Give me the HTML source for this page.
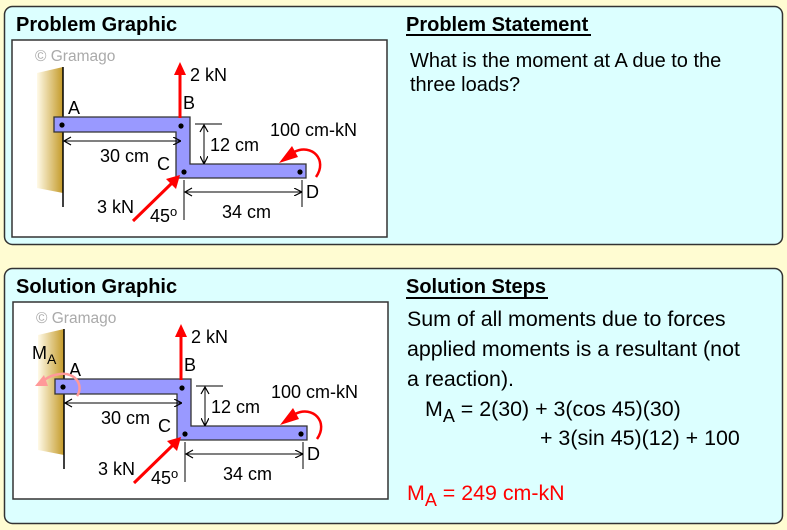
<!DOCTYPE html>
<html><head><meta charset="utf-8"><style>
html,body{margin:0;padding:0;background:#fffcd2;}
svg{display:block;font-family:"Liberation Sans",Arial,sans-serif;}
</style></head><body>
<svg width="787" height="530" viewBox="0 0 787 530" xmlns="http://www.w3.org/2000/svg">
<defs>
<linearGradient id="wall" x1="0" x2="1" y1="0" y2="0">
<stop offset="0" stop-color="#fffae8"/><stop offset="1" stop-color="#c49a28"/>
</linearGradient>
<marker id="ah" markerWidth="8" markerHeight="8" refX="7" refY="4" orient="auto" markerUnits="userSpaceOnUse">
<path d="M0,0 L8,4 L0,8" fill="none" stroke="#000" stroke-width="1.2"/>
</marker>
<g id="diag">
<rect x="12" y="40" width="375" height="197" fill="#fff" stroke="#333" stroke-width="1.5"/>
<text x="35" y="61" font-size="15.5" fill="#aaa">© Gramago</text>
<polygon points="37,73 63,67 63,193 37,188" fill="url(#wall)"/>
<line x1="63" y1="67" x2="63" y2="207" stroke="#000" stroke-width="1.5"/>
<path d="M54,117 H190 V164 H306 V178 H176 V132 H54 Z" fill="#9999ff" stroke="#333" stroke-width="1.3"/>
<circle cx="62" cy="125" r="2.6"/><circle cx="181" cy="126" r="2.6"/>
<circle cx="184" cy="172" r="2.6"/><circle cx="300" cy="172" r="2.6"/>
<line x1="180" y1="118" x2="180" y2="74" stroke="#f00" stroke-width="3"/>
<polygon points="174,75 186,75 180,62" fill="#f00"/>
<text x="190" y="81" font-size="18">2 kN</text>
<text x="68" y="114" font-size="18">A</text>
<text x="183" y="109" font-size="18">B</text>
<text x="157" y="170" font-size="18">C</text>
<text x="306" y="198" font-size="18">D</text>
<line x1="64" y1="141" x2="180" y2="141" stroke="#000" marker-end="url(#ah)"/>
<path d="M71,137 L64,141 L71,145" fill="none" stroke="#000" stroke-width="1.2"/>
<text x="100" y="162" font-size="18">30 cm</text>
<line x1="195" y1="124" x2="222" y2="124" stroke="#000"/>
<line x1="204" y1="125" x2="204" y2="163" stroke="#000" marker-end="url(#ah)"/>
<path d="M200,132 L204,125 L208,132" fill="none" stroke="#000" stroke-width="1.2"/>
<text x="210" y="151" font-size="18">12 cm</text>
<text x="270" y="136" font-size="18">100 cm-kN</text>
<path d="M316,177 C328,160 312,143 294,152" fill="none" stroke="#f00" stroke-width="2.5"/>
<polygon points="279,163 292,146 298,157" fill="#f00"/>
<line x1="184" y1="180" x2="184" y2="220" stroke="#000"/>
<line x1="302" y1="180" x2="302" y2="207" stroke="#000"/>
<line x1="185" y1="192" x2="301" y2="192" stroke="#000" marker-end="url(#ah)"/>
<path d="M192,188 L185,192 L192,196" fill="none" stroke="#000" stroke-width="1.2"/>
<text x="222" y="218" font-size="18">34 cm</text>
<line x1="133" y1="221" x2="172" y2="183" stroke="#f00" stroke-width="3"/>
<polygon points="180,175 176,189 166,179" fill="#f00"/>
<text x="97" y="213" font-size="18">3 kN</text>
<text x="150" y="222" font-size="18">45<tspan font-size="13" dy="-6">o</tspan></text>
</g>
</defs>

<rect x="4.5" y="6.5" width="778" height="238" rx="8" fill="#dcffff" stroke="#333" stroke-width="1.5"/>
<rect x="4.5" y="268.5" width="778" height="255" rx="8" fill="#dcffff" stroke="#333" stroke-width="1.5"/>

<text x="16" y="31" font-size="20" font-weight="bold">Problem Graphic</text>
<text x="406" y="31" font-size="20" font-weight="bold">Problem Statement</text>
<line x1="406" y1="35" x2="591" y2="35" stroke="#000" stroke-width="2"/>
<text x="410" y="67" font-size="20">What is the moment at A due to the</text>
<text x="410" y="91" font-size="20">three loads?</text>

<use href="#diag"/>

<text x="16" y="293" font-size="20" font-weight="bold">Solution Graphic</text>
<text x="406" y="293" font-size="20" font-weight="bold">Solution Steps</text>
<line x1="406" y1="298" x2="548" y2="298" stroke="#000" stroke-width="2"/>
<text x="407" y="326" font-size="21.4">Sum of all moments due to forces</text>
<text x="407" y="356" font-size="21.4">applied moments is a resultant (not</text>
<text x="407" y="386" font-size="21.4">a reaction).</text>
<text x="425" y="416" font-size="21.4">M<tspan font-size="18" dy="6">A</tspan><tspan dy="-6"> = 2(30) + 3(cos 45)(30)</tspan></text>
<text x="540" y="445" font-size="21.4">+ 3(sin 45)(12) + 100</text>
<text x="407" y="500" font-size="21.4" fill="#f00">M<tspan font-size="18" dy="6">A</tspan><tspan dy="-6"> = 249 cm-kN</tspan></text>

<g transform="translate(1,262)"><use href="#diag"/></g>
<text x="32" y="359" font-size="18">M<tspan font-size="14" dy="5">A</tspan></text>
<path d="M77,396 C84,386 76,372 60,374 C52,375 46,378 42,382" fill="none" stroke="#f99" stroke-width="2.5"/>
<polygon points="35,386 44,375 48,386" fill="#f99"/>
</svg>
</body></html>
